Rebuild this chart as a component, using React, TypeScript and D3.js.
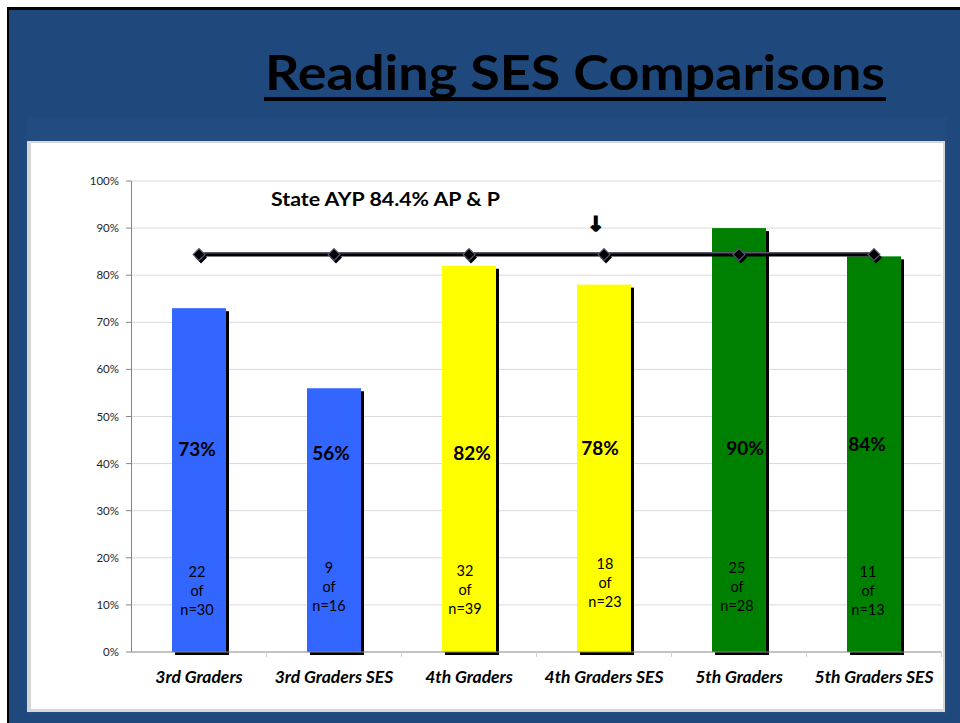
import React from "react";
import * as d3 from "d3";

const categories = [
  "3rd Graders",
  "3rd Graders SES",
  "4th Graders",
  "4th Graders SES",
  "5th Graders",
  "5th Graders SES",
];
const values = [73, 56, 82, 78, 90, 84];
const passed = [22, 9, 32, 18, 25, 11];
const totals = [30, 16, 39, 23, 28, 13];
const stateTarget = 84.4;
const barColors = ["#3366FF", "#3366FF", "#FFFF00", "#FFFF00", "#008000", "#008000"];
const yTicks = [0, 10, 20, 30, 40, 50, 60, 70, 80, 90, 100];

// annotation placement nudges (text boxes were hand-placed in the original)
const pctNudge = [
  [-2, 0],
  [-3, 4],
  [3, 4],
  [-4, -1],
  [6, -1],
  [-7, -5],
];
const countNudge = [
  [-2, 0],
  [-5, -4],
  [-4, -1],
  [1, -8],
  [-2, -4],
  [-6, 0],
];

const W = 960;
const H = 723;
const FONT = "Lato, 'Open Sans', sans-serif";

export default function App() {
  const x = d3.scaleBand<string>().domain(categories).range([131.5, 941.5]).padding(0);
  const y = d3.scaleLinear().domain([0, 100]).range([652, 181]);
  const barW = x.bandwidth() * 0.4;
  const cx = (c: string) => (x(c) as number) + x.bandwidth() / 2;

  const linePts: [number, number][] = categories.map((c) => [cx(c), y(stateTarget)]);
  const line = d3.line()(linePts) as string;
  const diamond = d3.symbol().type(d3.symbolSquare).size(72)() as string;

  return (
    <div style={{ position: "absolute", left: 0, top: 0 }}>
      <svg width={W} height={H} style={{ display: "block" }}>
        <rect x={0} y={0} width={W} height={H} fill="#ffffff" />
        <rect x={7} y={7} width={W - 7} height={H - 7} fill="#000000" />
        <rect x={9} y={10} width={W - 9} height={H - 10} fill="#1F497D" />
        <rect x={27} y={117} width={920} height={597} fill="#224C80" />
        {/* chart panel */}
        <rect x={27} y={141} width={918} height={571} fill="#d6d6d6" />
        <rect x={31} y={143} width={912} height={566} fill="#ffffff" />

        {/* title */}
        <text
          x={265}
          y={90}
          fontFamily={FONT}
          fontWeight={700}
          fontSize={48}
          fill="#000"
          textLength={620}
          lengthAdjust="spacingAndGlyphs"
        >
          Reading SES Comparisons
        </text>
        <rect x={264} y={97} width={622} height={4} fill="#000" />

        {/* gridlines */}
        {yTicks.map((t) => (
          <g key={t}>
            {t > 0 && (
              <line x1={131.5} x2={941.5} y1={y(t)} y2={y(t)} stroke="#d9d9d9" strokeWidth={1} />
            )}
            <line x1={126} x2={131.5} y1={y(t)} y2={y(t)} stroke="#868686" strokeWidth={1} />
            <text
              x={119}
              y={y(t)}
              dy="0.35em"
              textAnchor="end"
              fontFamily={FONT}
              fontSize={11.5}
              fill="#262626"
            >
              {t}%
            </text>
          </g>
        ))}

        {/* bars with shadows */}
        {categories.map((c, i) => {
          const bx = cx(c) - barW / 2;
          return (
            <g key={c}>
              <rect x={bx + 3} y={y(values[i]) + 3} width={barW} height={y(0) - y(values[i])} fill="#000" />
              <rect x={bx} y={y(values[i])} width={barW} height={y(0) - y(values[i])} fill={barColors[i]} />
            </g>
          );
        })}

        {/* axes */}
        <line x1={131.5} x2={131.5} y1={y(100)} y2={y(0)} stroke="#868686" strokeWidth={1} />
        <line x1={131.5} x2={941.5} y1={y(0)} y2={y(0)} stroke="#868686" strokeWidth={1} />
        {categories.map((c) => (
          <line
            key={c}
            x1={(x(c) as number) + x.bandwidth()}
            x2={(x(c) as number) + x.bandwidth()}
            y1={y(0)}
            y2={y(0) + 5}
            stroke="#d0d0d0"
          />
        ))}

        {/* state target line */}
        <path d={line} stroke="#5a5a6e" strokeWidth={4} fill="none" transform="translate(0,-0.5)" />
        <path d={line} stroke="#000" strokeWidth={3} fill="none" transform="translate(0,0.5)" />
        {linePts.map(([px, py], i) => (
          <g key={i}>
            <path d={diamond} transform={`translate(${px + 2},${py + 3}) rotate(45)`} fill="#000" />
            <path
              d={diamond}
              transform={`translate(${px},${py}) rotate(45)`}
              fill="#000"
              stroke="#5c5c80"
              strokeWidth={1}
            />
          </g>
        ))}

        <text x={271} y={206} fontFamily={FONT} fontWeight={700} fontSize={19} fill="#000" textLength={229} lengthAdjust="spacingAndGlyphs">
          State AYP 84.4% AP &amp; P
        </text>
        <text
          x={cx(categories[3]) - 8}
          y={231}
          textAnchor="middle"
          fontFamily="'DejaVu Sans', sans-serif"
          fontWeight={700}
          fontSize={20}
          fill="#000"
          stroke="#000"
          strokeWidth={1.6}
        >
          ↓
        </text>

        {/* percentage labels */}
        {categories.map((c, i) => (
          <text
            key={c}
            x={cx(c) + pctNudge[i][0]}
            y={456 + pctNudge[i][1]}
            textAnchor="middle"
            fontFamily={FONT}
            fontWeight={700}
            fontSize={19}
            fill="#000"
          >
            {values[i]}%
          </text>
        ))}

        {/* count labels */}
        {categories.map((c, i) => {
          const lx = cx(c) + countNudge[i][0];
          const ly = 577 + countNudge[i][1];
          return (
            <text key={c} textAnchor="middle" fontFamily={FONT} fontSize={14.5} fill="#000">
              <tspan x={lx} y={ly}>{passed[i]}</tspan>
              <tspan x={lx} y={ly + 19}>of</tspan>
              <tspan x={lx} y={ly + 38}>n={totals[i]}</tspan>
            </text>
          );
        })}

        {/* category labels */}
        {categories.map((c) => (
          <text
            key={c}
            x={cx(c)}
            y={683}
            textAnchor="middle"
            fontFamily={FONT}
            fontWeight={700}
            fontStyle="italic"
            fontSize={17.5}
            fill="#000"
          >
            {c}
          </text>
        ))}
      </svg>
    </div>
  );
}
